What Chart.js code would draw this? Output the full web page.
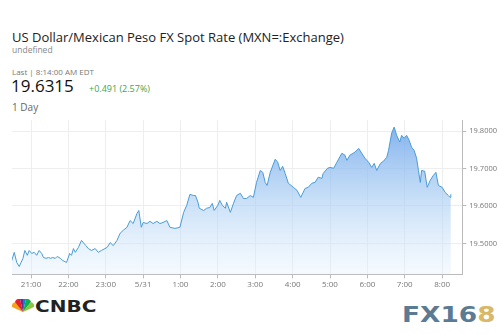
<!DOCTYPE html>
<html>
<head>
<meta charset="utf-8">
<script src="https://cdn.jsdelivr.net/npm/chart.js@4.4.1/dist/chart.umd.min.js"></script>
<style>
    body { margin: 0; background: #fff; font-family: "Open Sans", "Noto Sans", sans-serif; }
    #wrap { position: relative; width: 500px; height: 335px; overflow: hidden; }
    .t { position: absolute; white-space: nowrap; }
    #title { left: 12px; top: 28px; font-size: 13px; color: #222; }
    #sub { left: 12px; top: 44px; font-size: 8.5px; color: #888; }
    #last { left: 12px; top: 66px; font-size: 8px; color: #777; }
    #price { left: 11px; top: 74px; font-size: 17px; color: #111; }
    #chg { left: 89px; top: 82px; font-size: 9px; color: #3aa757; }
    #day { left: 12px; top: 100px; font-size: 10px; color: #666; }
    #cnbc { left: 35px; top: 297px; font-size: 16px; font-weight: 900; color: #222; font-family: "DejaVu Sans", sans-serif; transform: scaleX(1.25); transform-origin: left top; }
    #fx { left: 402px; top: 302px; font-size: 22px; font-weight: 900; color: #5b7a94; font-family: "DejaVu Sans", sans-serif; transform: scaleX(1.2); transform-origin: left top; }
    #fx span { color: #d9b86a; }
    #chartBox { position: absolute; left: 0; top: 112px; width: 500px; height: 180px; }
</style>
</head>
<body>
<div id="wrap">
    <div class="t" id="title">US Dollar/Mexican Peso FX Spot Rate (MXN=:Exchange)</div>
    <div class="t" id="sub">undefined</div>
    <div class="t" id="last">Last | 8:14:00 AM EDT</div>
    <div class="t" id="price">19.6315</div>
    <div class="t" id="chg">+0.491 (2.57%)</div>
    <div class="t" id="day">1 Day</div>
    <div id="chartBox"><canvas id="fxChart"></canvas></div>
    <svg style="position:absolute;left:11px;top:299px" width="24" height="14" viewBox="0 0 24 14">
        <path d="M12 13 L1 8 A4 4 0 0 1 5 3 Z" fill="#f7a21b"/>
        <path d="M12 13 L4 3 A4 4 0 0 1 9 0 Z" fill="#e4202e"/>
        <path d="M12 13 L9 0 A3 3 0 0 1 12 0 Z" fill="#6a2c91"/>
        <path d="M12 13 L12 0 A3 3 0 0 1 15 0 Z" fill="#0089d0"/>
        <path d="M12 13 L15 0 A4 4 0 0 1 20 3 Z" fill="#0db04b"/>
        <path d="M12 13 L20 3 A4 4 0 0 1 23 8 Z" fill="#8cc63e"/>
    </svg>
    <div class="t" id="cnbc">CNBC</div>
    <div class="t" id="fx">FX16<span>8</span></div>
</div>
<script>
// Intraday quotes (time, rate)
const times = ['20:29','20:33','20:37','20:41','20:47','20:50','20:54','20:57','21:01','21:05','21:09','21:13','21:17','21:20',
    '21:24','21:28','21:31','21:35','21:39','21:42','21:47','21:51','21:57','22:02','22:05','22:08','22:11','22:16','22:21','22:25',
    '22:28','22:32','22:37','22:43','22:48','22:53','23:02','23:07','23:12','23:18','23:23','23:28','23:34','23:39','23:44','23:50',
    '23:53','23:57','00:00','00:06','00:11','00:16','00:22','00:27','00:32','00:38','00:43','00:51','00:59','01:05','01:10','01:15',
    '01:21','01:24','01:28','01:30','01:37','01:42','01:47','01:51','01:54','02:00','02:03','02:07','02:12','02:14','02:20','02:25',
    '02:30','02:36','02:41','02:46','02:52','02:57','03:02','03:08','03:12','03:16','03:19','03:24','03:32','03:36','03:40','03:44',
    '03:48','03:53','04:01','04:07','04:13','04:20','04:25','04:31','04:36','04:41','04:47','04:49','04:56','05:00','05:06','05:11',
    '05:19','05:24','05:27','05:32','05:40','05:46','05:51','05:56','06:02','06:07','06:11','06:15','06:21','06:26','06:31','06:34',
    '06:39','06:43','06:47','06:52','06:55','06:59','07:03','07:07','07:11','07:15','07:19','07:22','07:25','07:27','07:32','07:36',
    '07:41','07:46','07:50','07:54','08:00','08:05','08:10','08:13','08:14'];
const rates = [19.454,19.476,19.449,19.438,19.460,19.481,19.468,19.481,19.473,19.476,19.468,19.481,19.473,19.462,
    19.460,19.462,19.460,19.462,19.460,19.465,19.460,19.454,19.449,19.473,19.468,19.486,19.476,19.489,19.508,19.500,
    19.494,19.486,19.481,19.486,19.476,19.481,19.489,19.502,19.494,19.508,19.527,19.535,19.543,19.561,19.553,19.580,
    19.588,19.543,19.556,19.553,19.559,19.553,19.559,19.553,19.556,19.561,19.543,19.540,19.543,19.583,19.602,19.631,
    19.628,19.628,19.610,19.594,19.588,19.594,19.596,19.607,19.588,19.602,19.615,19.602,19.594,19.610,19.583,19.607,
    19.628,19.634,19.620,19.620,19.628,19.623,19.663,19.695,19.690,19.663,19.655,19.690,19.725,19.717,19.695,19.706,
    19.687,19.661,19.650,19.642,19.623,19.647,19.650,19.661,19.663,19.677,19.674,19.687,19.701,19.703,19.701,19.717,
    19.741,19.736,19.722,19.736,19.744,19.754,19.741,19.728,19.717,19.703,19.714,19.695,19.714,19.720,19.730,19.749,
    19.795,19.811,19.789,19.771,19.789,19.781,19.789,19.776,19.757,19.749,19.728,19.695,19.663,19.695,19.693,19.650,
    19.669,19.682,19.690,19.655,19.650,19.636,19.628,19.623,19.6315];

const tickLabels = ['21:00','22:00','23:00','5/31','1:00','2:00','3:00','4:00','5:00','6:00','7:00','8:00'];
const yTicks = [19.5, 19.6, 19.7, 19.8];

// hours after 21:00 on 5/30
function toHours(t) {
    const [h, m] = t.split(':').map(Number);
    let v = h + m / 60 - 21;
    if (v < -2) v += 24;
    return v;
}

const points = times.map((t, i) => ({ x: toHours(t), y: rates[i] }));

const ctx = document.getElementById('fxChart').getContext('2d');
new Chart(ctx, {
    type: 'line',
    data: {
        datasets: [{
            data: points,
            borderColor: '#4a9cd6',
            borderWidth: 1,
            pointRadius: 0,
            tension: 0,
            fill: 'start',
            backgroundColor: (c) => {
                const area = c.chart.chartArea;
                if (!area) return 'rgba(120,170,235,0.5)';
                const g = c.chart.ctx.createLinearGradient(0, area.top, 0, area.bottom);
                g.addColorStop(0, 'rgba(110,165,235,0.9)');
                g.addColorStop(0.5, 'rgba(160,200,242,0.6)');
                g.addColorStop(1, 'rgba(225,240,252,0.35)');
                return g;
            }
        }]
    },
    options: {
        responsive: true,
        maintainAspectRatio: false,
        animation: false,
        layout: { padding: { left: 12, top: 8, right: 0, bottom: 0 } },
        plugins: { legend: { display: false }, tooltip: { enabled: false } },
        scales: {
            x: {
                type: 'linear',
                min: -0.51,
                max: 11.54,
                afterBuildTicks: (axis) => { axis.ticks = tickLabels.map((_, i) => ({ value: i })); },
                ticks: {
                    color: '#777',
                    font: { size: 8, family: 'Open Sans' },
                    maxRotation: 0,
                    autoSkip: false,
                    padding: 2,
                    callback: (v) => tickLabels[v]
                },
                grid: { color: '#eeeeee', tickLength: 4, tickColor: '#bbb' },
                border: { color: '#bbb' }
            },
            y: {
                position: 'right',
                min: 19.417,
                max: 19.83,
                afterBuildTicks: (axis) => { axis.ticks = yTicks.map(v => ({ value: v })); },
                ticks: {
                    color: '#777',
                    font: { size: 7.5, family: 'Open Sans' },
                    padding: 3,
                    callback: (v) => v.toFixed(4)
                },
                grid: { color: '#eeeeee', tickLength: 4, tickColor: '#bbb' },
                border: { color: '#bbb' }
            }
        }
    }
});
</script>
</body>
</html>
